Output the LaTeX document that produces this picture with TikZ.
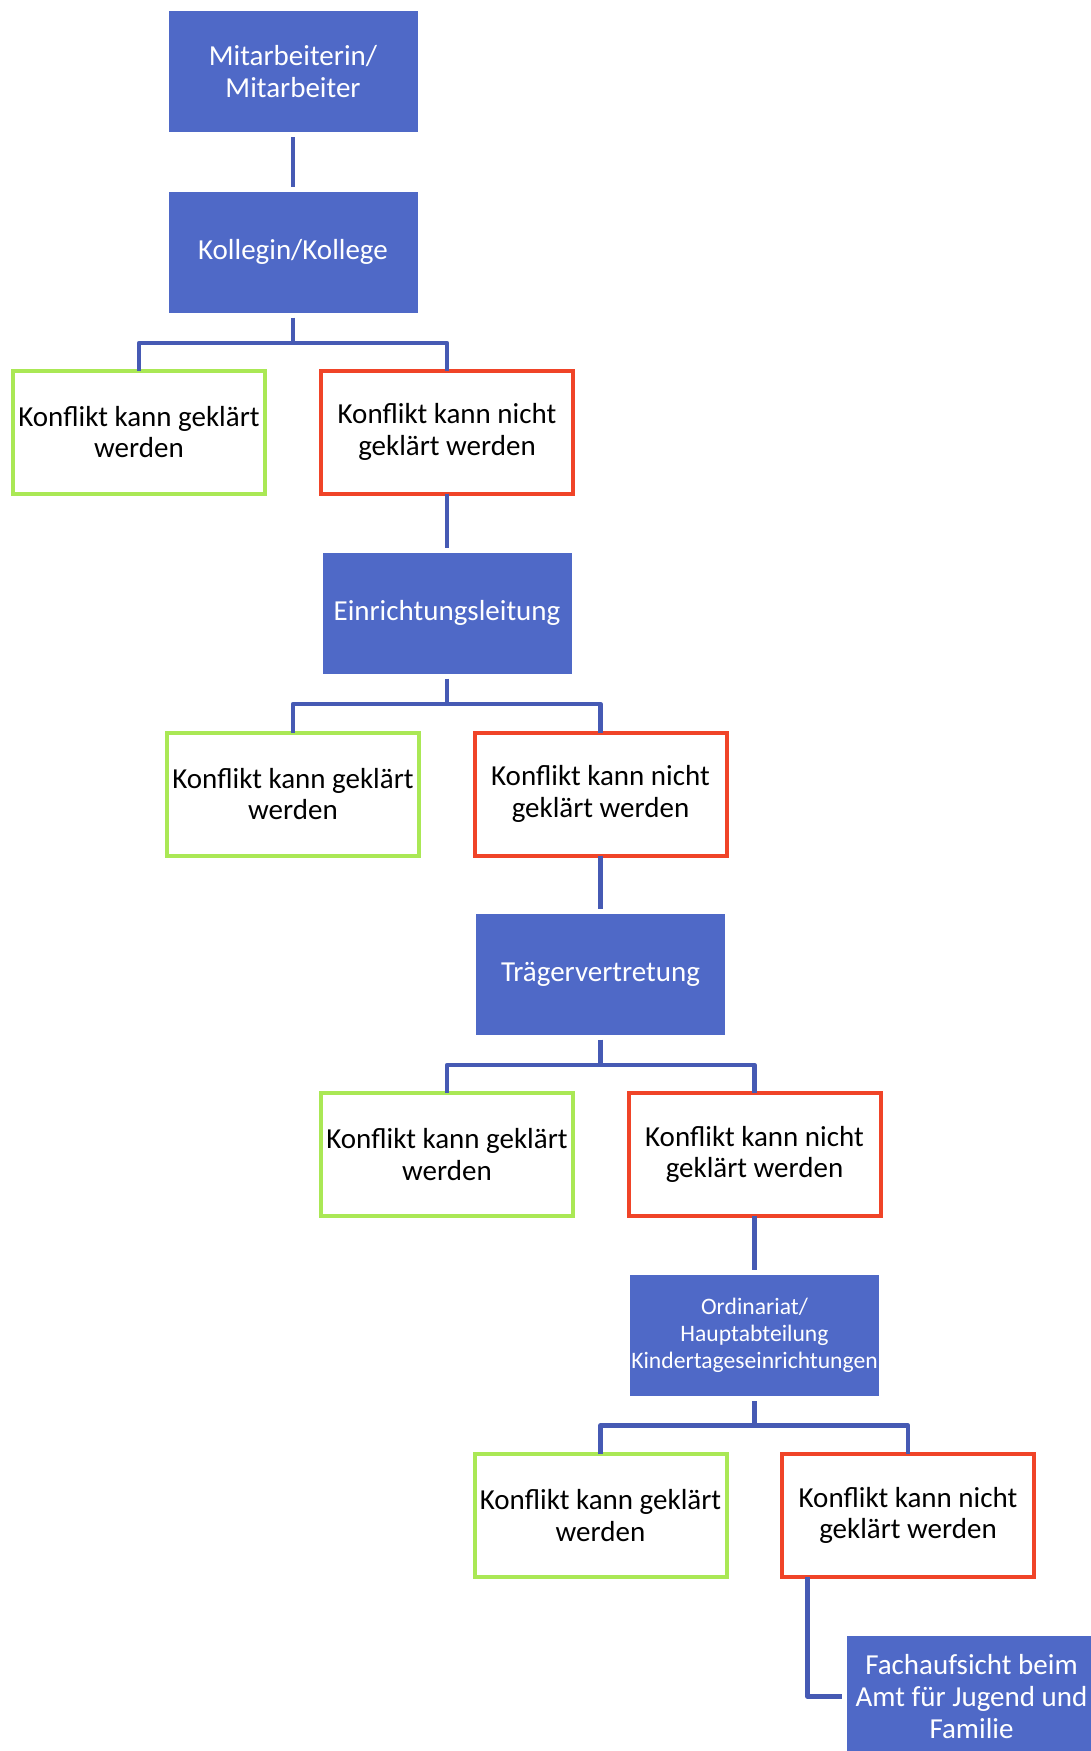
\documentclass[tikz,border=0pt]{standalone}
\usepackage{fontspec}
\setmainfont{Carlito}
\definecolor{boxblue}{RGB}{79,105,199}
\definecolor{linblue}{RGB}{70,90,180}
\definecolor{okgreen}{RGB}{170,232,85}
\definecolor{nored}{RGB}{240,68,40}
\begin{document}
\begin{tikzpicture}[x=1pt,y=-1pt,
  bluebox/.style={fill=boxblue, text=white, minimum width=249pt, minimum height=121pt,
    inner sep=1pt, outer sep=5pt, align=center, font=\fontsize{29}{32}\selectfont},
  okbox/.style={draw=okgreen, line width=4pt, fill=white, minimum width=252pt,
    minimum height=123pt, inner sep=1pt, outer sep=0pt, align=center,
    font=\fontsize{29}{31.5}\selectfont},
  nokbox/.style={okbox, draw=nored},
  conn/.style={draw=linblue, line width=4.5pt, line join=round}]
\useasboundingbox (0,0) rectangle (1091,1751);
\clip (0,0) rectangle (1091,1751);

\node[bluebox] (b1) at (293,71.5) {Mitarbeiterin/\\Mitarbeiter};
\node[bluebox] (b2) at (293,252) {Kollegin/Kollege};
\coordinate (h1) at (293,343);
\node[okbox] (g1) at (139,432) {Konflikt kann geklärt\\werden};
\node[nokbox] (r1) at (447,432) {Konflikt kann nicht\\geklärt werden};

\node[bluebox] (b3) at (447,613) {Einrichtungsleitung};
\coordinate (h2) at (447,704);
\node[okbox] (g2) at (293,794) {Konflikt kann geklärt\\werden};
\node[nokbox] (r2) at (600.5,794) {Konflikt kann nicht\\geklärt werden};

\node[bluebox] (b4) at (600.5,974) {Trägervertretung};
\coordinate (h3) at (600.5,1065);
\node[okbox] (g3) at (447,1154.5) {Konflikt kann geklärt\\werden};
\node[nokbox] (r3) at (754.5,1154.5) {Konflikt kann nicht\\geklärt werden};

\node[bluebox, font=\fontsize{23.6}{26.8}\selectfont] (b5) at (754.5,1335.5) {Ordinariat/\\Hauptabteilung\\Kindertageseinrichtungen};
\coordinate (h4) at (754.5,1425.5);
\node[okbox] (g4) at (600.5,1515.5) {Konflikt kann geklärt\\werden};
\node[nokbox] (r4) at (908,1515.5) {Konflikt kann nicht\\geklärt werden};

\node[bluebox] (b6) at (971.5,1696.5) {Fachaufsicht beim\\Amt für Jugend und\\Familie};

\draw[conn] (b1.south) -- (b2.north);
\draw[conn] (b2.south) -- (h1);
\draw[conn] (g1.north) |- (h1) -| (r1.north);
\draw[conn] (r1.south) -- (b3.north);
\draw[conn] (b3.south) -- (h2);
\draw[conn] (g2.north) |- (h2) -| (r2.north);
\draw[conn] (r2.south) -- (b4.north);
\draw[conn] (b4.south) -- (h3);
\draw[conn] (g3.north) |- (h3) -| (r3.north);
\draw[conn] (r3.south) -- (b5.north);
\draw[conn] (b5.south) -- (h4);
\draw[conn] (g4.north) |- (h4) -| (r4.north);
\draw[conn] ([xshift=-100.5pt]r4.south) |- (b6.west);
\end{tikzpicture}
\end{document}
